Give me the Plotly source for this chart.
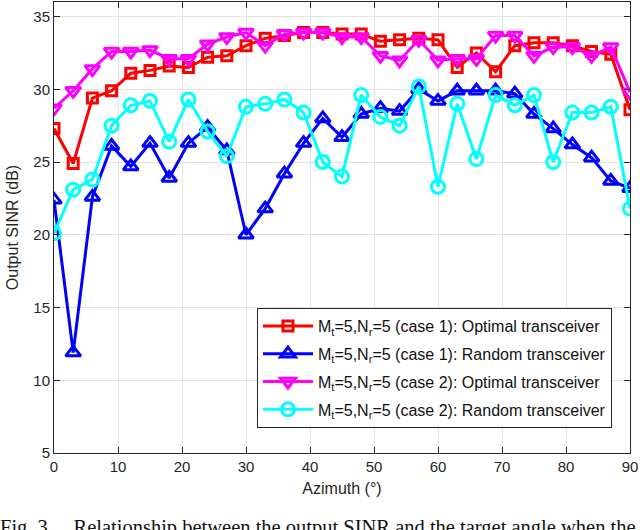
import plotly.graph_objects as go

# azimuth grid (degrees)
azimuth = list(range(0, 91, 3))

# output SINR (dB)
case1_optimal = [27.3, 24.9, 29.4, 29.9, 31.1, 31.3, 31.6, 31.5, 32.2, 32.3, 33.0,
                 33.5, 33.7, 33.9, 33.9, 33.8, 33.8, 33.3, 33.4, 33.5, 33.4, 31.5,
                 32.5, 31.2, 33.0, 33.2, 33.2, 33.0, 32.6, 32.4, 28.6]
case1_random = [22.4, 11.9, 22.6, 26.1, 24.7, 26.3, 23.9, 26.3, 27.4, 25.8, 20.0,
                21.8, 24.2, 26.3, 28.0, 26.7, 28.3, 28.7, 28.5, 30.0, 29.2, 29.9,
                29.9, 29.9, 29.7, 28.3, 27.3, 26.2, 25.3, 23.7, 23.2]
case2_optimal = [28.7, 29.9, 31.4, 32.6, 32.6, 32.7, 32.1, 32.1, 33.1, 33.6, 33.9,
                 33.0, 33.8, 33.9, 33.9, 33.6, 33.6, 32.3, 32.0, 33.4, 32.0, 32.1,
                 32.1, 33.7, 33.7, 32.3, 32.9, 32.9, 32.3, 32.9, 29.8]
case2_random = [20.1, 23.1, 23.8, 27.5, 28.9, 29.2, 26.4, 29.3, 27.1, 25.4, 28.8,
                29.0, 29.3, 28.4, 25.0, 24.0, 29.6, 28.1, 27.5, 30.2, 23.3, 29.0,
                25.2, 29.6, 28.9, 29.6, 25.0, 28.4, 28.4, 28.8, 21.8]

series = [
    ("M<sub>t</sub>=5,N<sub>r</sub>=5 (case 1): Optimal transceiver", case1_optimal, "#ff0000", "square-open", 10),
    ("M<sub>t</sub>=5,N<sub>r</sub>=5 (case 1): Random transceiver", case1_random, "#0000ff", "triangle-up-open", 13),
    ("M<sub>t</sub>=5,N<sub>r</sub>=5 (case 2): Optimal transceiver", case2_optimal, "#ff00ff", "triangle-down-open", 13),
    ("M<sub>t</sub>=5,N<sub>r</sub>=5 (case 2): Random transceiver", case2_random, "#00ffff", "circle-open", 13),
]

fig = go.Figure()
for i, (name, vals, col, sym, sz) in enumerate(series):
    fig.add_trace(go.Scatter(
        x=azimuth, y=vals, name=name, mode="lines+markers", legendgroup=f"g{i}",
        line=dict(color=col, width=3),
        marker=dict(symbol=sym, size=sz, color=col, line=dict(color=col, width=3)),
    ))

axis_style = dict(
    showline=True, linecolor="#262626", linewidth=1, mirror="ticks",
    ticks="inside", ticklen=6, tickcolor="#262626",
    showgrid=True, gridcolor="#e3e3e3", gridwidth=1, zeroline=False,
    tickfont=dict(size=15, color="#262626"), automargin=False,
)

fig.update_xaxes(range=[0, 90], dtick=10,
                 title=dict(text="Azimuth (°)", font=dict(size=16), standoff=8), **axis_style)
fig.update_yaxes(range=[5, 36], tickvals=[5, 10, 15, 20, 25, 30, 35],
                 title=dict(text="Output SINR (dB)", font=dict(size=16), standoff=10), **axis_style)

fig.update_layout(
    width=640, height=530,
    margin=dict(l=54, r=10, t=2, b=77),
    paper_bgcolor="white", plot_bgcolor="white",
    font=dict(family="Liberation Sans, Arial, sans-serif", color="#262626"),
    showlegend=True,
    legend=dict(
        x=0.3524, y=0.3215, xanchor="left", yanchor="top",
        bgcolor="white", bordercolor="#262626", borderwidth=1,
        font=dict(size=16, color="#111111"), tracegroupgap=4,
        itemwidth=50,
    ),
    annotations=[dict(
        text="Fig. 3.\u2003Relationship between the output SINR and the target angle when the",
        xref="paper", yref="paper", x=-0.0973, y=-0.136, xanchor="left", yanchor="top",
        showarrow=False,
        font=dict(family="Liberation Serif, Times New Roman, serif", size=20.5, color="#111111"),
    )],
)

# drop the page's default body margin so the figure sits at the window corner
fig.write_html("out.html", config={"displayModeBar": False},
               post_script="document.body.style.margin='0';")
